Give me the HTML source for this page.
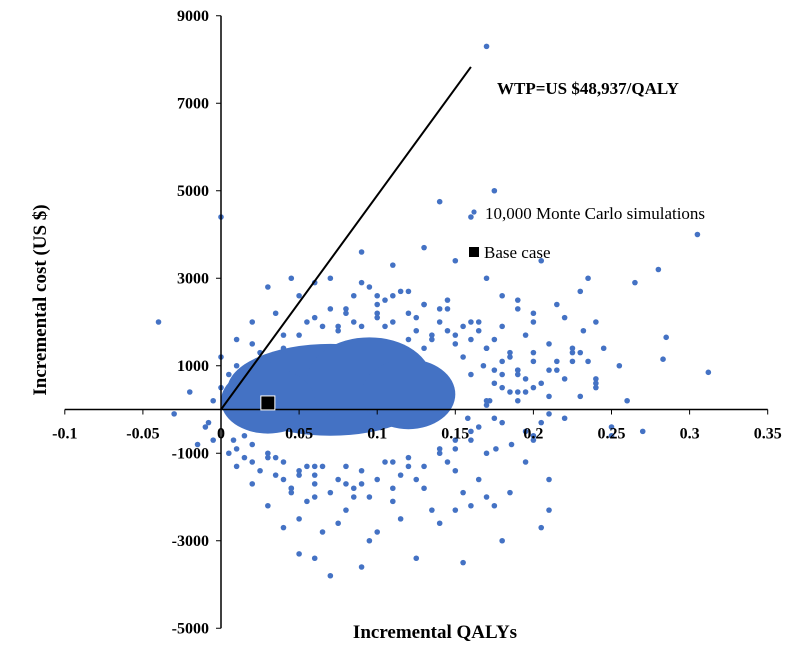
<!DOCTYPE html>
<html><head><meta charset="utf-8">
<style>
body{margin:0;background:#fff;}
svg{display:block;font-family:"Liberation Serif",serif;}
</style></head>
<body>
<svg id="chart" width="800" height="665" viewBox="0 0 800 665" xmlns="http://www.w3.org/2000/svg"></svg>
<script>
const xTicks=[-0.1,-0.05,0,0.05,0.1,0.15,0.2,0.25,0.3,0.35];
const xTickLabels=["-0.1","-0.05","0","0.05","0.1","0.15","0.2","0.25","0.3","0.35"];
const yTicks=[9000,7000,5000,3000,1000,-1000,-3000,-5000];
const yTickLabels=["9000","7000","5000","3000","1000","-1000","-3000","-5000"];
const wtp=48937;
const baseCase=[0.03,150];
// dense core of the simulation cloud (cx, cy, rx, ry) in data units
const coreX=[0.07,0.095,0.03,0.12];
const coreY=[450,650,200,350];
const coreRX=[0.066,0.04,0.03,0.03];
const coreRY=[1050,1000,750,800];
// estimated individual simulation points
const simX=[0.17,0.175,0.305,0.0,0.14,-0.04,0.28,0.265,0.285,0.312,0.283,0.27,-0.015,0.07,0.05,0.155,0.18,0.205,0.21,0.125,0.09,0.06,0.255,0.245,0.235,0.23,0.22,0.21,0.2,0.19,0.25,0.26,0.24,0.23,0.22,0.2,0.195,0.21,0.185,0.16,0.14,0.1,0.04,0.03,0.02,0.01,-0.02,-0.03,0.0,0.02,0.03,0.05,0.07,0.09,0.11,0.13,0.15,0.16,0.17,0.18,0.19,0.2,0.165,0.145,0.12,0.1,0.08,0.06,0.04,0.17,0.15,0.13,0.11,0.08,0.06,0.05,0.09,0.12,0.14,0.16,0.18,0.19,0.175,0.185,0.2,0.215,0.225,0.215,0.205,0.24,0.25,0.095,0.075,0.045,0.03,0.015,0.005,0.01,0.025,0.035,0.105,0.125,0.135,0.155,0.17,0.195,0.205,0.165,0.135,0.115,0.085,0.065,0.155,0.175,0.16,0.172,0.158,0.168,0.18,0.15,0.145,0.1,0.11,0.06,0.04,0.02,0.008,0.012,0.14,0.13,0.12,0.085,0.075,0.055,0.045,0.035,0.19,0.2,0.18,0.21,0.225,0.232,0.24,0.195,0.186,0.176,
0.01,0.02,0.03,0.04,0.05,0.055,0.065,0.07,0.075,0.08,0.085,0.09,0.095,0.1,0.105,0.11,0.115,0.12,0.125,0.13,0.135,0.14,0.145,0.15,0.155,0.16,0.165,0.17,0.175,0.18,0.185,0.19,0.195,0.2,0.205,0.21,0.215,0.22,0.19,0.18,0.185,0.17,0.175,0.165,0.16,0.15,0.145,0.14,0.13,0.125,0.12,0.115,0.11,0.105,0.1,0.095,0.09,0.085,0.08,0.075,0.07,0.065,0.06,0.055,0.05,0.045,0.04,0.035,0.03,0.025,0.02,0.015,0.01,0.005,-0.005,-0.01,-0.008,-0.005,0.0,0.19,0.2,0.195,0.21,0.225,0.23,0.235,0.24,0.17,0.175,0.16,0.15,0.14,0.11,0.09,0.06,0.045,0.1,0.13,0.15,0.17,0.08,0.06,0.05];
const simY=[8300,5000,4000,4400,4750,2000,3200,2900,1650,850,1150,-500,-800,-3800,-3300,-3500,-3000,-2700,-2300,-3400,-3600,-3400,1000,1400,3000,2700,2100,1500,1300,900,-400,200,600,300,-200,-700,-1200,-1600,-1900,-2200,-2600,-2800,-2700,-2200,-1700,-1300,400,-100,1200,2000,2800,2600,3000,3600,3300,3700,3400,4400,3000,2600,2300,2000,1800,2300,2700,2400,2300,2100,1700,-1000,-1400,-1800,-2100,-2300,-2000,-1500,-1700,-1300,-900,-500,-300,200,600,1200,500,900,1300,2400,3400,2000,-600,-3000,-2600,-1900,-1000,-600,800,1600,1300,2200,1900,2100,1600,1200,1400,1700,-300,-1600,-2300,-2500,-2000,-2800,-1900,-2200,800,200,-200,1000,500,-700,1800,2200,-1200,-1500,-1600,-1200,-700,-300,600,1400,1600,2000,1900,-1300,-1800,-1100,2500,2200,1900,300,1100,1800,700,400,-800,-900,1000,1500,
1100,1400,1700,2000,1900,2300,1800,2200,2600,1900,2800,2100,2500,2000,2700,2200,1800,2400,1700,2000,2500,1500,1900,1600,2000,1400,1600,1100,1300,900,700,1100,600,900,1100,700,400,800,400,100,-200,-400,-700,-900,-1200,-1000,-1300,-1600,-1100,-1500,-1800,-1200,-1600,-2000,-1400,-1800,-1300,-1600,-1900,-1300,-1700,-2100,-1400,-1800,-1200,-1500,-1100,-1400,-800,-1100,-900,-1000,-700,-400,-300,200,500,800,-600,-500,-100,1400,1300,1100,500,200,900,2000,1700,2300,2600,2900,2900,3000,2600,2400,-2300,-2000,-1700,-1300,-2500,-2300,-2100];
const svg=document.getElementById('chart');
const NS='http://www.w3.org/2000/svg';
const X=v=>221+v/0.05*78.1;
const Y=v=>409.5-v/2000*87.5;
const R=v=>v/0.05*78.1, RY=v=>v/2000*87.5;
function mk(t,a){const e=document.createElementNS(NS,t);for(const k in a)e.setAttribute(k,a[k]);svg.appendChild(e);return e;}
const blue='#4472c4';
for(let i=0;i<coreX.length;i++){
  const e=mk('ellipse',{cx:X(coreX[i]),cy:Y(coreY[i]),rx:R(coreRX[i]),ry:RY(coreRY[i]),fill:blue});
  
  
}
for(let i=0;i<simX.length;i++){
  const c=mk('circle',{cx:X(simX[i]),cy:Y(simY[i]),r:2.8,fill:blue});
  
  
}
let a=mk('line',{x1:X(-0.1),y1:Y(0),x2:X(0.35),y2:Y(0),stroke:'#000','stroke-width':1.5});

a=mk('line',{x1:X(0),y1:Y(9000),x2:X(0),y2:Y(-5000),stroke:'#000','stroke-width':1.5});

for(let i=0;i<xTicks.length;i++){
  mk('line',{x1:X(xTicks[i]),y1:Y(0),x2:X(xTicks[i]),y2:Y(0)+5,stroke:'#000'});
  const t=mk('text',{x:X(xTicks[i]),y:Y(0)+29,'text-anchor':'middle','font-size':16,'font-weight':'bold'});
  t.textContent=xTickLabels[i];
  
}
for(let i=0;i<yTicks.length;i++){
  mk('line',{x1:X(0)-5,y1:Y(yTicks[i]),x2:X(0),y2:Y(yTicks[i]),stroke:'#000'});
  const t=mk('text',{x:X(0)-12,y:Y(yTicks[i])+5,'text-anchor':'end','font-size':16,'font-weight':'bold'});
  t.textContent=yTickLabels[i];
  
}
const wx=0.16;
a=mk('line',{x1:X(0),y1:Y(0),x2:X(wx),y2:Y(wx*wtp),stroke:'#000','stroke-width':2});

a=mk('rect',{x:X(baseCase[0])-7,y:Y(baseCase[1])-7,width:14,height:14,fill:'#000',stroke:'#fff','stroke-width':1});

function txt(x,y,s,o,name){const t=mk('text',Object.assign({x:x,y:y},o));t.textContent=s;return t;}
txt(497,94,'WTP=US $48,937/QALY',{'font-size':17,'font-weight':'bold'},'wtp-label');
a=mk('circle',{cx:474,cy:212,r:2.6,fill:blue});
txt(485,219,'10,000 Monte Carlo simulations',{'font-size':17},'legend-simulations');
a=mk('rect',{x:469,y:247,width:10,height:10,fill:'#000'});
txt(484,258,'Base case',{'font-size':17},'legend-base-case');
txt(435,638,'Incremental QALYs',{'font-size':19,'font-weight':'bold','text-anchor':'middle'},'x-axis-title');
txt(0,0,'Incremental cost (US $)',{'font-size':19,'font-weight':'bold','text-anchor':'middle',transform:'translate(46,300) rotate(-90)'},'y-axis-title');
</script>
</body></html>
